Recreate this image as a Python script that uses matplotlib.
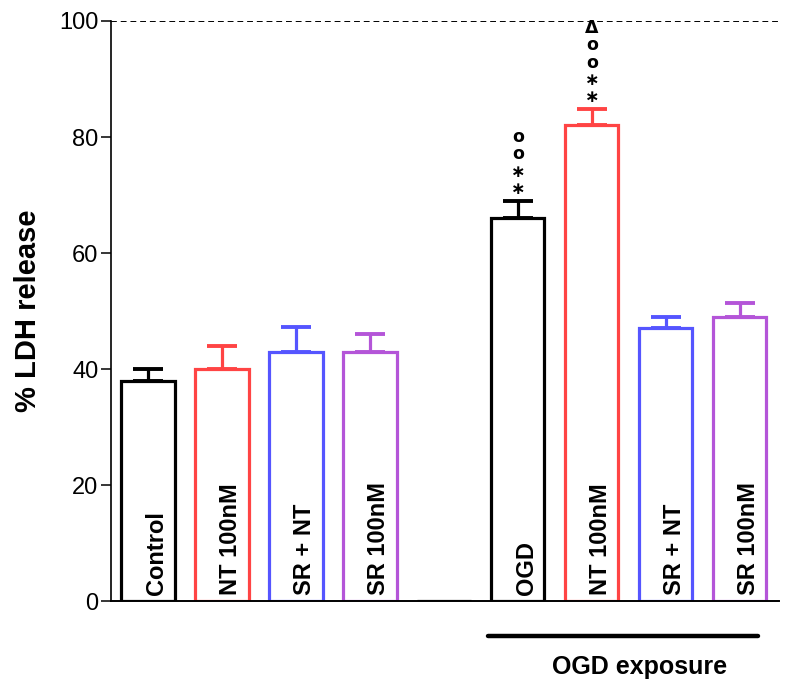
import matplotlib
matplotlib.use("Agg")
import matplotlib.pyplot as plt
import numpy as np

plt.rcParams['font.family'] = ['Liberation Sans', 'DejaVu Sans']

labels = ["Control", "NT 100nM", "SR + NT", "SR 100nM", "",
          "OGD", "NT 100nM", "SR + NT", "SR 100nM"]
values = [38, 40, 43, 43, 0, 66, 82, 47, 49]
errors = [2, 4, 4.2, 3, 0, 3, 2.8, 2, 2.4]
colors = ["black", "#ff4444", "#5555ff", "#b455d8", "black",
          "black", "#ff4444", "#5555ff", "#b455d8"]
signs = ["", "", "", "", "", "o\no\n∗\n∗", "Δ\no\no\n∗\n∗", "", ""]
group_label = "OGD exposure"

fig = plt.figure(figsize=(8.02, 6.84), dpi=100)
ax = fig.add_axes([0.1384, 0.1213, 0.8329, 0.848])

x = np.arange(len(values))
ax.bar(x, values, width=0.72, facecolor="white", edgecolor=colors,
       linewidth=2.3, zorder=2)
for xi, v, e, c in zip(x, values, errors, colors):
    if e > 0:
        ax.errorbar(xi, v, yerr=[[0], [e]], fmt="none", ecolor=c,
                    elinewidth=2.3, capsize=10.5, capthick=2.8, zorder=3)

for xi, lab in zip(x, labels):
    if lab:
        ax.text(xi + 0.12, 1.0, lab, rotation=90, ha="center", va="bottom",
                fontsize=17, fontweight="bold", zorder=4)

# significance marks stacked above error bars
for xi, v, e, s in zip(x, values, errors, signs):
    if s:
        ax.annotate(s, (xi, v + e), xytext=(0, 2), textcoords="offset points",
                    ha="center", va="bottom", fontsize=12.5, fontweight="bold",
                    family="DejaVu Sans", linespacing=0.95,
                    multialignment="center")

ax.axhline(100, color="black", linestyle=(0, (3, 2)), linewidth=1.4)

ax.set_xlim(-0.5, 8.53)
ax.set_ylim(0, 100)
ax.set_yticks([0, 20, 40, 60, 80, 100])
ax.set_xticks([])
ax.tick_params(axis="y", labelsize=17, length=7, width=1.1, pad=2)
ax.set_ylabel("% LDH release", fontsize=21, fontweight="bold", labelpad=12)
for side in ["top", "right"]:
    ax.spines[side].set_visible(False)
ax.spines["left"].set_linewidth(1.2)
ax.spines["bottom"].set_linewidth(1.4)

ax.plot([4.6, 8.25], [-6, -6], color="black", linewidth=3.2,
        clip_on=False, solid_capstyle="round")
ax.text(6.65, -11.4, group_label, ha="center", va="center",
        fontsize=18, fontweight="bold")

fig.savefig("out.png", dpi=100)
